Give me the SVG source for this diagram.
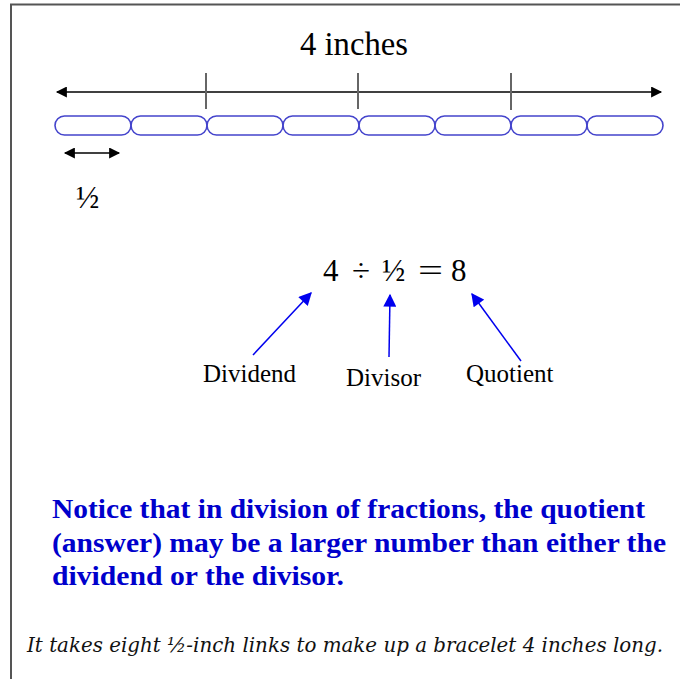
<svg xmlns="http://www.w3.org/2000/svg" width="680" height="679" viewBox="0 0 680 679">
<defs>
<marker id="ah" viewBox="0 0 10 10" refX="9" refY="5" markerWidth="12" markerHeight="11" markerUnits="userSpaceOnUse" orient="auto-start-reverse"><path d="M0,0 L10,5 L0,10 z" fill="#000"/></marker>
<marker id="ab" viewBox="0 0 10 10" refX="9" refY="5" markerWidth="14" markerHeight="13" markerUnits="userSpaceOnUse" orient="auto"><path d="M0,0 L10,5 L0,10 z" fill="#0000ee"/></marker>
<style>
.t{font-family:"Liberation Serif","Times New Roman",serif;fill:#000}
.lbl{font-family:"Liberation Serif","Times New Roman",serif;fill:#000;font-size:25px}
.eq{font-family:"Liberation Serif","Times New Roman",serif;fill:#000;font-size:31px}
.link{fill:none;stroke:#4444cc;stroke-width:1.6}
.tick{stroke:#666;stroke-width:2}
.ba{stroke:#0000ee;stroke-width:1.5;marker-end:url(#ab)}
.note{font-family:"Liberation Serif","Times New Roman",serif;font-weight:bold;font-size:27px;fill:#0000cc}
</style>
</defs>
<rect width="680" height="679" fill="#fff"/>
<path d="M11,679 V4.5 H680" fill="none" stroke="#555" stroke-width="2"/>
<g id="ruler">
<line x1="57" y1="92" x2="661" y2="92" stroke="#000" stroke-width="1.5" marker-start="url(#ah)" marker-end="url(#ah)"/>
<line class="tick" x1="206" y1="73" x2="206" y2="109"/>
<line class="tick" x1="358" y1="73" x2="358" y2="109"/>
<line class="tick" x1="511" y1="73" x2="511" y2="110"/>
<text class="t" x="300" y="55" font-size="33" textLength="108" lengthAdjust="spacingAndGlyphs">4 inches</text>
</g>
<g id="links">
<rect class="link" x="55" y="116" width="76" height="19" rx="9.5"/>
<rect class="link" x="131" y="116" width="76" height="19" rx="9.5"/>
<rect class="link" x="207" y="116" width="76" height="19" rx="9.5"/>
<rect class="link" x="283" y="116" width="76" height="19" rx="9.5"/>
<rect class="link" x="359" y="116" width="76" height="19" rx="9.5"/>
<rect class="link" x="435" y="116" width="76" height="19" rx="9.5"/>
<rect class="link" x="511" y="116" width="76" height="19" rx="9.5"/>
<rect class="link" x="587" y="116" width="76" height="19" rx="9.5"/>
</g>
<g id="half">
<line x1="65" y1="153" x2="119" y2="153" stroke="#000" stroke-width="1.5" marker-start="url(#ah)" marker-end="url(#ah)"/>
<text class="t" x="76" y="208" font-size="31">½</text>
</g>
<g id="equation">
<text class="eq" x="323" y="281">4</text>
<text class="eq" x="352" y="281" textLength="18" lengthAdjust="spacingAndGlyphs">÷</text>
<text class="eq" x="382" y="281">½</text>
<text class="eq" x="418" y="281" textLength="25" lengthAdjust="spacingAndGlyphs">=</text>
<text class="eq" x="451" y="281">8</text>
</g>
<g id="connectors">
<line class="ba" x1="253" y1="355" x2="311" y2="293"/>
<line class="ba" x1="389" y1="357" x2="390" y2="295"/>
<line class="ba" x1="521" y1="361" x2="472" y2="294"/>
</g>
<g id="dividend"><text class="lbl" x="203" y="382">Dividend</text></g>
<g id="divisor"><text class="lbl" x="346" y="386">Divisor</text></g>
<g id="quotient"><text class="lbl" x="466" y="382">Quotient</text></g>
<g id="note">
<text class="note" x="52" y="518" textLength="593" lengthAdjust="spacingAndGlyphs">Notice that in division of fractions, the quotient</text>
<text class="note" x="52" y="552" textLength="614" lengthAdjust="spacingAndGlyphs">(answer) may be a larger number than either the</text>
<text class="note" x="52" y="585" textLength="292" lengthAdjust="spacingAndGlyphs">dividend or the divisor.</text>
</g>
<g id="caption">
<text x="27" y="652" font-family="'DejaVu Serif','Liberation Serif',serif" font-style="italic" font-size="20" fill="#111" textLength="636" lengthAdjust="spacingAndGlyphs">It takes eight ½-inch links to make up a bracelet 4 inches long.</text>
</g>
</svg>
